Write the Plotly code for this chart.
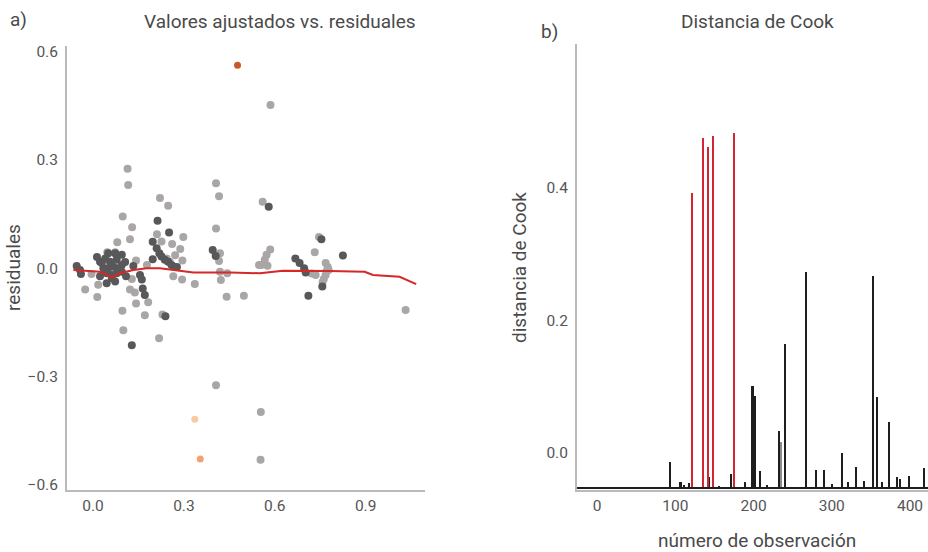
import plotly.graph_objects as go

# ---------------- Panel a) fitted values vs residuals ----------------
light_x = [0.114, 0.116, 0.221, 0.248, 0.098, 0.129, 0.211, 0.298, 0.122, 0.080,
           0.226, 0.261, 0.288, 0.047, 0.073, 0.271, 0.406, 0.416, 0.406, 0.419,
           0.295, 0.178, 0.142, -0.005, -0.026, 0.014, 0.017, 0.128, 0.265, 0.294,
           0.336, 0.419, 0.443, 0.422, 0.122, 0.138, 0.142, 0.182, 0.441, 0.498,
           0.097, 0.171, 0.229, 0.100, 0.218, 0.548, 0.560, 0.585, 0.573, 0.567,
           0.556, 0.576, 0.732, 0.746, 0.768, 0.775, 0.771, 0.768, 0.762, 0.758,
           0.778, 0.722, 0.735, 1.032, 0.586, 0.406, 0.554, 0.553, 0.243, 0.253,
           0.416]
light_y = [0.275, 0.230, 0.194, 0.173, 0.143, 0.113, 0.094, 0.086, 0.080, 0.072,
           0.074, 0.067, 0.053, 0.044, 0.044, 0.036, 0.235, 0.199, 0.110, 0.041,
           0.021, 0.009, 0.021, -0.016, -0.059, -0.080, -0.046, -0.030, -0.022, -0.031,
           -0.044, -0.010, -0.014, -0.033, -0.059, -0.067, -0.098, -0.094, -0.079, -0.076,
           -0.118, -0.130, -0.128, -0.172, -0.194, 0.009, 0.184, 0.052, 0.037, 0.023,
           0.009, 0.007, 0.044, 0.086, 0.014, 0.003, -0.008, -0.019, -0.030, -0.038,
           -0.005, -0.015, -0.019, -0.116, 0.452, -0.324, -0.398, -0.530, 0.027, 0.018,
           0.020]

dark_x = [0.213, 0.251, 0.197, 0.210, 0.219, 0.226, 0.237, 0.248, 0.259, 0.268,
          0.277, 0.197, 0.133, 0.050, 0.073, 0.095, 0.023, 0.040, 0.056, 0.078,
          0.095, 0.034, 0.050, 0.067, 0.083, 0.045, 0.062, 0.078, 0.095, 0.045,
          0.073, 0.062, 0.029, 0.013, 0.106, 0.023, 0.109, 0.155, 0.161, -0.054,
          -0.043, -0.040, 0.164, 0.171, 0.239, 0.128, 0.395, 0.405, 0.580, 0.668,
          0.682, 0.697, 0.702, 0.754, 0.825, 0.757, 0.711]
dark_y = [0.131, 0.099, 0.073, 0.055, 0.041, 0.032, 0.023, 0.018, 0.009, 0.004,
          0.003, 0.025, 0.006, 0.041, 0.041, 0.037, 0.018, 0.027, 0.018, 0.023,
          0.009, 0.000, 0.000, 0.004, 0.000, -0.014, -0.019, -0.014, -0.010, -0.042,
          -0.037, -0.028, 0.014, 0.031, 0.017, -0.022, -0.022, -0.019, -0.031, 0.006,
          -0.005, -0.016, -0.056, -0.074, -0.133, -0.213, 0.050, 0.034, 0.170, 0.027,
          0.014, 0.000, -0.012, 0.080, 0.035, -0.051, -0.076]

outlier_x = [0.477, 0.336, 0.354]
outlier_y = [0.562, -0.418, -0.528]
outlier_colors = ["#c9582b", "#f8caa2", "#f0a274"]

smooth_x = [-0.065, 0.023, 0.062, 0.089, 0.133, 0.177, 0.221, 0.276, 0.331, 0.452,
            0.551, 0.627, 0.693, 0.781, 0.897, 0.924, 1.012, 1.067]
smooth_y = [-0.005, -0.010, -0.025, -0.014, -0.005, 0.000, 0.000, -0.007, -0.012, -0.012,
            -0.014, -0.007, -0.007, -0.008, -0.010, -0.019, -0.024, -0.044]

a_xticks = [0.0, 0.3, 0.6, 0.9]
a_yticks = [-0.6, -0.3, 0.0, 0.3, 0.6]

# ---------------- Panel b) Cook's distance ----------------
red_obs = [121, 135, 142, 148, 175]
red_cook = [0.392, 0.475, 0.462, 0.478, 0.483]

black_obs = [94, 107, 111, 118, 144, 156, 171, 190, 199, 202,
             209, 217, 233, 236, 241, 267, 280, 290, 301, 313,
             321, 331, 342, 353, 358, 365, 373, 384, 388, 399, 418]
black_cook = [-0.014, -0.044, -0.048, -0.046, -0.036, -0.050, -0.032, -0.044, 0.101, 0.086,
              -0.027, -0.049, 0.033, -0.023, 0.164, 0.273, -0.026, -0.026, -0.047, 0.000,
              -0.044, -0.022, -0.042, 0.267, 0.084, -0.044, 0.047, -0.037, -0.039, -0.035, -0.023]
gray_obs = [235]
gray_cook = [0.016]

BAR_BASE = -0.053
b_xticks = [0, 100, 200, 300, 400]
b_yticks = [0.0, 0.2, 0.4]

FONT = "Roboto"
AXIS_COLOR = "#b9b9be"
TEXT_COLOR = "#4a4a4a"

fig = go.Figure()

fig.add_trace(go.Scatter(x=light_x, y=light_y, mode="markers",
                         marker=dict(color="#aaa6a6", size=8, line=dict(width=0)),
                         xaxis="x", yaxis="y", showlegend=False))
fig.add_trace(go.Scatter(x=dark_x, y=dark_y, mode="markers",
                         marker=dict(color="#58585a", size=8, line=dict(width=0)),
                         xaxis="x", yaxis="y", showlegend=False))
fig.add_trace(go.Scatter(x=outlier_x, y=outlier_y, mode="markers",
                         marker=dict(color=outlier_colors, size=7, line=dict(width=0)),
                         xaxis="x", yaxis="y", showlegend=False))
fig.add_trace(go.Scatter(x=smooth_x, y=smooth_y, mode="lines",
                         line=dict(color="#d62828", width=2),
                         xaxis="x", yaxis="y", showlegend=False))

fig.add_trace(go.Bar(x=black_obs, y=[v - BAR_BASE for v in black_cook], base=BAR_BASE,
                     width=2.0, marker=dict(color="#1e1e1e", line=dict(width=0)),
                     xaxis="x2", yaxis="y2", showlegend=False))
fig.add_trace(go.Bar(x=gray_obs, y=[v - BAR_BASE for v in gray_cook], base=BAR_BASE,
                     width=1.8, marker=dict(color="#8a8a8a", line=dict(width=0)),
                     xaxis="x2", yaxis="y2", showlegend=False))
fig.add_trace(go.Bar(x=red_obs, y=[v - BAR_BASE for v in red_cook], base=BAR_BASE,
                     width=2.8, marker=dict(color="#d32630", line=dict(width=0)),
                     xaxis="x2", yaxis="y2", showlegend=False))

common_axis = dict(showgrid=False, zeroline=False, showline=True, linecolor=AXIS_COLOR,
                   linewidth=2, ticks="", automargin=False,
                   tickfont=dict(family=FONT, size=15.5, color="#555555"))

W, H = 928, 552
fig.update_layout(
    width=W, height=H,
    margin=dict(l=0, r=0, t=0, b=0),
    paper_bgcolor="white", plot_bgcolor="white",
    bargap=0, barmode="overlay",
    font=dict(family=FONT, color=TEXT_COLOR),
    xaxis=dict(domain=[67 / W, 425 / W], range=[-0.086, 1.096], tickvals=a_xticks,
               tickformat=".1f", anchor="y", **common_axis),
    yaxis=dict(domain=[1 - 490 / H, 1 - 46 / H], range=[-0.614, 0.615], tickvals=a_yticks,
               tickformat=".1f", anchor="x", ticklabelstandoff=4, **common_axis),
    xaxis2=dict(domain=[577 / W, 1.0], range=[-25.6, 423], tickvals=b_xticks,
                anchor="y2", **common_axis),
    yaxis2=dict(domain=[1 - 490 / H, 1 - 44 / H], range=[-0.056, 0.617], tickvals=b_yticks,
                tickformat=".1f", anchor="x2", ticklabelstandoff=4, **common_axis),
    shapes=[dict(type="line", xref="x2 domain", yref="y2", x0=0, x1=1,
                 y0=BAR_BASE, y1=BAR_BASE, line=dict(color="#1e1e1e", width=2))],
)

ann_font = dict(family=FONT, size=19, color=TEXT_COLOR)
fig.add_annotation(text="Valores ajustados vs. residuales", x=280 / W, y=1 - 22 / H,
                   xref="paper", yref="paper", showarrow=False, font=ann_font,
                   xanchor="center", yanchor="middle")
fig.add_annotation(text="Distancia de Cook", x=757 / W, y=1 - 22 / H,
                   xref="paper", yref="paper", showarrow=False, font=ann_font,
                   xanchor="center", yanchor="middle")
fig.add_annotation(text="a)", x=8 / W, y=1 - 19 / H, xref="paper", yref="paper",
                   showarrow=False, font=ann_font, xanchor="left", yanchor="middle")
fig.add_annotation(text="b)", x=539 / W, y=1 - 31 / H, xref="paper", yref="paper",
                   showarrow=False, font=ann_font, xanchor="left", yanchor="middle")
fig.add_annotation(text="residuales", x=14 / W, y=1 - 268 / H, xref="paper", yref="paper",
                   showarrow=False, font=ann_font, textangle=-90,
                   xanchor="center", yanchor="middle")
fig.add_annotation(text="distancia de Cook", x=520 / W, y=1 - 268 / H, xref="paper",
                   yref="paper", showarrow=False, font=ann_font, textangle=-90,
                   xanchor="center", yanchor="middle")
fig.add_annotation(text="número de observación", x=757 / W, y=1 - 540 / H, xref="paper",
                   yref="paper", showarrow=False, font=ann_font,
                   xanchor="center", yanchor="middle")

fig.write_html("out.html", config={"displayModeBar": False},
               post_script="document.body.style.margin='0px';")
